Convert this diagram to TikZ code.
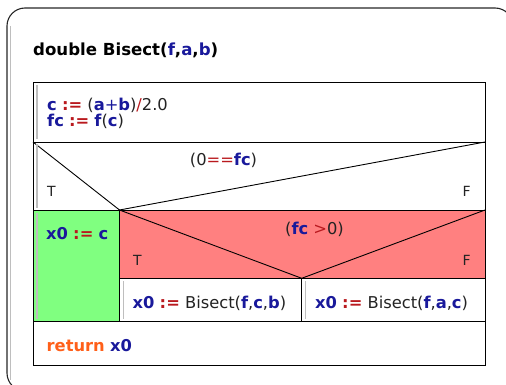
\documentclass[tikz,border=0pt]{standalone}
\usepackage{fontspec}
\setmainfont{DejaVu Sans}
\usetikzlibrary{positioning, calc}
\definecolor{varBlue}{RGB}{25, 25, 155}
\definecolor{opRed}{RGB}{185, 25, 30}
\definecolor{kwOrange}{RGB}{255, 95, 25}
\definecolor{txtGray}{RGB}{35, 35, 35}
\definecolor{trueFill}{RGB}{128, 255, 128}
\definecolor{condFill}{RGB}{255, 128, 128}
\definecolor{barGray}{RGB}{190, 190, 190}
\tikzset{
  cell/.style={draw=black, line width=0.9pt},
  leftbar/.style={draw=barGray, line width=1.7pt},
  frame/.style={draw=black!85, line width=1.1pt, rounded corners=18pt},
  code/.style={
    font=\fontsize{16.3}{16.3}\selectfont, text=txtGray,
    inner sep=0pt, anchor=base west,
  },
  label/.style={code, font=\fontsize{14}{14}\selectfont},
}
\newcommand{\nsvar}[1]{\textbf{\color{varBlue}#1}}
\newcommand{\nsop}[1]{{\color{opRed}#1}}
\newcommand{\nsasg}{\nsop{\textbf{:=}}}

\begin{document}
\begin{tikzpicture}[x=1pt, y=-1pt]
\useasboundingbox (0,0) rectangle (506,385);

% outer frame
\draw[frame] (7,8) rectangle (513,391);
\draw[leftbar] (10.5,26) -- (10.5,380);

\node[code, font=\fontsize{16.6}{16.6}\selectfont\bfseries, text=black]
  (title) at (33,56) {double Bisect(\nsvar{f},\nsvar{a},\nsvar{b})};

% block coordinates
\coordinate (tl)  at (33,82.7);
\coordinate (br)  at (485,365);

% fills
\fill[trueFill] (33,210) rectangle (119.5,321.7);
\fill[condFill] (119.5,210) rectangle (485,278.3);

% cells
\draw[cell] (tl) rectangle (br);
\draw[cell] (33,142) -- (485,142);
\draw[cell] (33,210) -- (485,210);
\draw[cell] (33,321.7) -- (485,321.7);
\draw[cell] (119.5,210) -- (119.5,321.7);
\draw[cell] (119.5,278.3) -- (485,278.3);
\draw[cell] (301.7,278.3) -- (301.7,321.7);
\draw[cell] (33,142) -- (119.5,210) -- (485,142);
\draw[cell] (119.5,210) -- (301.7,278.3) -- (485,210);

% gray bars
\draw[leftbar] (37,85) -- (37,139.5);
\draw[leftbar] (37,144.5) -- (37,207.5);
\draw[leftbar] (37,212.5) -- (37,319);
\draw[leftbar] (123.5,281) -- (123.5,319);
\draw[leftbar] (305.5,281) -- (305.5,319);

% texts
\node[code] (asg1) at (47,111)
  {\nsvar{c} \nsasg{} (\nsvar{a}{\color{varBlue}+}\nsvar{b})\nsop{/}2.0};
\node[code] (asg2) at (47,127)
  {\nsvar{fc} \nsasg{} \nsvar{f}(\nsvar{c})};

\node[code, anchor=base] (cond1) at (223.5,165) {(0\nsop{==}\nsvar{fc})};
\node[label] (t1) at (47,196) {T};
\node[label] (f1) at (462.5,196) {F};

\node[code] (x0c) at (46,239) {\nsvar{x0} \nsasg{} \nsvar{c}};

\node[code, anchor=base] (cond2) at (314.5,234) {(\nsvar{fc} \nsop{>}0)};
\node[label] (t2) at (133,265) {T};
\node[label] (f2) at (462.5,265) {F};

\node[code] (call1) at (132.5,308)
  {\nsvar{x0} \nsasg{} Bisect(\nsvar{f},\nsvar{c},\nsvar{b})};
\node[code] (call2) at (315,308)
  {\nsvar{x0} \nsasg{} Bisect(\nsvar{f},\nsvar{a},\nsvar{c})};

\node[code] (ret) at (46.5,351)
  {\textbf{\color{kwOrange}return} \nsvar{x0}};

\end{tikzpicture}
\end{document}
